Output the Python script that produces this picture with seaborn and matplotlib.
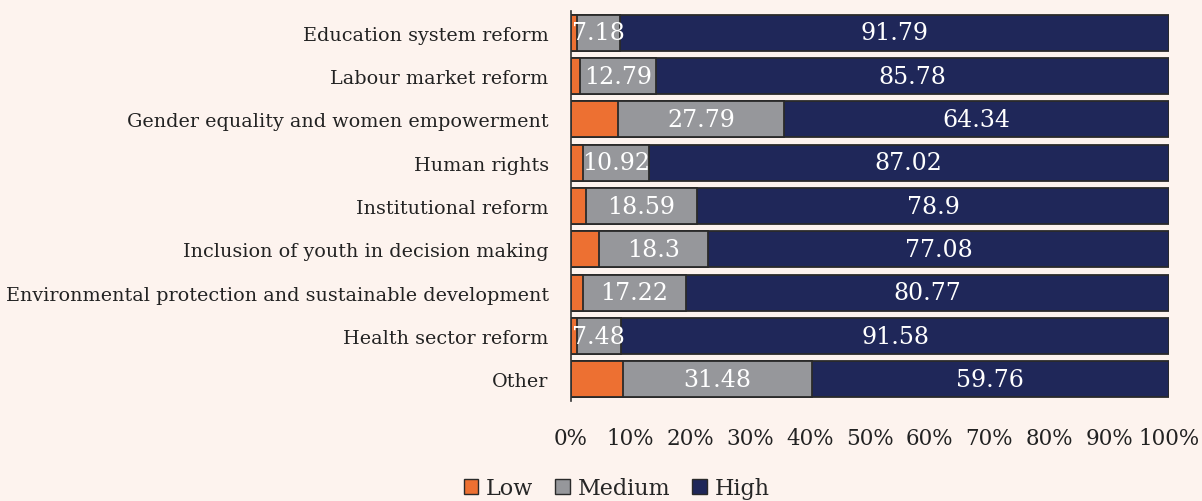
import numpy as np
import pandas as pd
import seaborn as sns
import matplotlib.pyplot as plt
from matplotlib.patches import Patch
from matplotlib.ticker import PercentFormatter

categories = [
    "Education system reform",
    "Labour market reform",
    "Gender equality and women empowerment",
    "Human rights",
    "Institutional reform",
    "Inclusion of youth in decision making",
    "Environmental protection and sustainable development",
    "Health sector reform",
    "Other",
]
low = [1.03, 1.43, 7.87, 2.06, 2.51, 4.62, 2.01, 0.94, 8.76]
medium = [7.18, 12.79, 27.79, 10.92, 18.59, 18.3, 17.22, 7.48, 31.48]
high = [91.79, 85.78, 64.34, 87.02, 78.9, 77.08, 80.77, 91.58, 59.76]

BG = "#fdf3ee"
colors = {"Low": "#ed7032", "Medium": "#96979b", "High": "#1f2759"}
EDGE = "#2a2a2a"

df = pd.DataFrame({"category": categories, "Low": low, "Medium": medium, "High": high})
df["c_low"] = df["Low"]
df["c_med"] = df["Low"] + df["Medium"]
df["c_high"] = df["c_med"] + df["High"]

sns.set_theme(style="white")
plt.rcParams["font.family"] = ["DejaVu Serif"]

fig = plt.figure(figsize=(12.02, 5.02), dpi=100, facecolor=BG)
ax = fig.add_axes([0.475, 0.199, 0.4975, 0.777])
ax.set_facecolor(BG)

# stacked bars drawn back to front
for col, name in [("c_high", "High"), ("c_med", "Medium"), ("c_low", "Low")]:
    sns.barplot(data=df, x=col, y="category", color=colors[name], width=0.83,
                edgecolor=EDGE, linewidth=1.3, saturation=1, ax=ax)

for i, row in df.iterrows():
    ax.text(row["Low"] + row["Medium"] / 2, i, f"{row['Medium']:g}", color="white",
            ha="center", va="center", fontsize=17)
    ax.text(row["c_med"] + row["High"] / 2, i, f"{row['High']:g}", color="white",
            ha="center", va="center", fontsize=17)

ax.set_xlim(0, 100)
ax.set_ylim(8.5, -0.5)
ax.set_xticks(np.arange(0, 101, 10))
ax.xaxis.set_major_formatter(PercentFormatter(decimals=0))
ax.set_xlabel("")
ax.set_ylabel("")
ax.tick_params(axis="x", length=0, pad=19, labelsize=15.5, colors="#222222")
ax.tick_params(axis="y", length=0, pad=16, labelsize=13.8, colors="#222222")
for s in ["top", "right", "bottom"]:
    ax.spines[s].set_visible(False)
ax.spines["left"].set_color("#333333")
ax.spines["left"].set_linewidth(1.2)

handles = [Patch(facecolor=colors[n], edgecolor=EDGE, label=n) for n in ["Low", "Medium", "High"]]
fig.legend(handles=handles, loc="center", bbox_to_anchor=(0.513, 0.025), ncol=3,
           frameon=False, fontsize=16, handlelength=0.65, handleheight=0.65,
           handletextpad=0.35, columnspacing=1.0)

fig.savefig("out.png", dpi=100, facecolor=BG)
